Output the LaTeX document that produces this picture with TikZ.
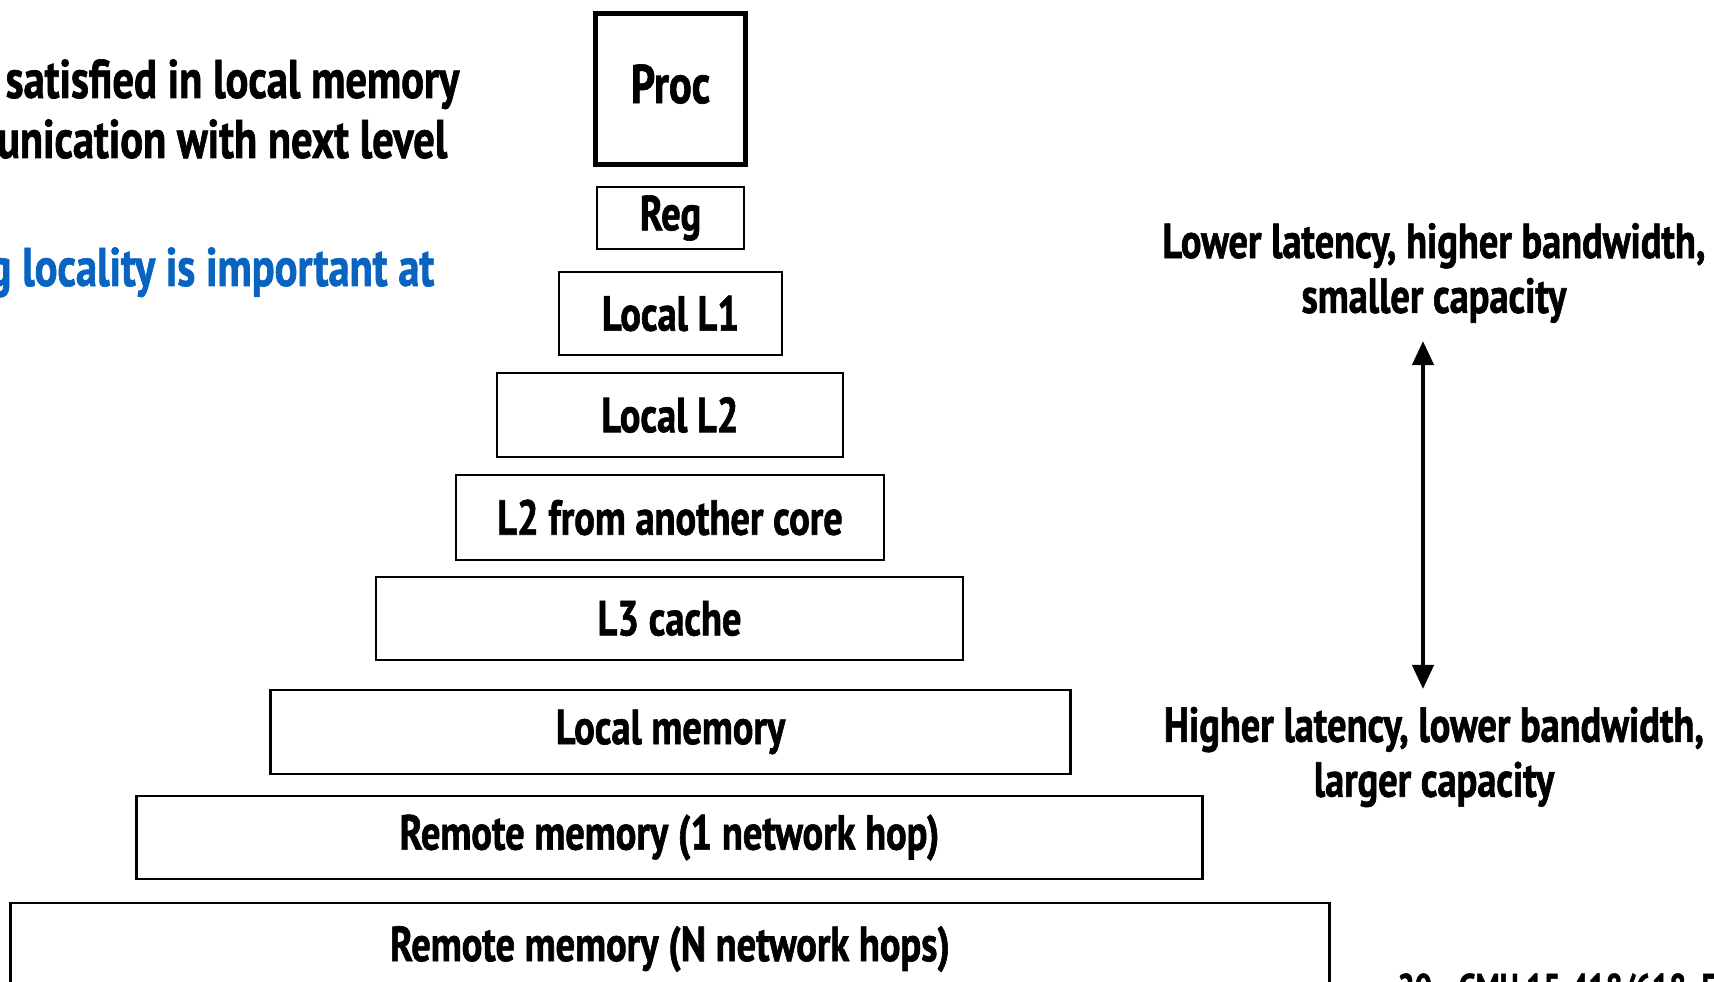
\documentclass[tikz,border=0pt]{standalone}
\usepackage{fontspec}
\setmainfont{PT Sans}[FakeStretch=0.78, BoldFeatures={FakeBold=1.2}]
\usetikzlibrary{arrows.meta}
\definecolor{locblue}{RGB}{8,100,192}
\begin{document}
\begin{tikzpicture}[x=0.01cm,y=-0.01cm,
  font=\bfseries\fontsize{14}{16}\selectfont,
  lvl/.style={draw, line width=0.75pt, inner sep=0pt},
  side/.style={align=center, font=\bfseries\fontsize{14}{15.6}\selectfont},
  lefttxt/.style={anchor=base east, inner sep=0pt, font=\bfseries\fontsize{15.5}{18}\selectfont},
  dbl/.style={line width=1.2pt, {Triangle[length=0.24cm,width=0.21cm]}-{Triangle[length=0.24cm,width=0.21cm]}}
]
\useasboundingbox (0,0) rectangle (1714,982);
% pyramid levels
\node[lvl, line width=1.4pt, minimum width=1.49cm, minimum height=1.50cm, font=\bfseries\fontsize{15.5}{18}\selectfont] (proc) at (670.5,89) {\raisebox{3pt}{Proc}};
\node[lvl, minimum width=1.47cm, minimum height=0.62cm] (reg) at (670.5,218) {Reg};
\node[lvl, minimum width=2.23cm, minimum height=0.83cm] (l1) at (670.5,313.5) {Local L1};
\node[lvl, minimum width=3.46cm, minimum height=0.84cm] (l2) at (670,415) {Local L2};
\node[lvl, minimum width=4.28cm, minimum height=0.85cm] (l2o) at (670,517.5) {L2 from another core};
\node[lvl, minimum width=5.87cm, minimum height=0.83cm] (l3) at (669.5,618.5) {L3 cache};
\node[lvl, minimum width=7.99cm, minimum height=0.84cm] (lm) at (670.5,732) {Local memory};
\node[lvl, minimum width=10.65cm, minimum height=0.83cm] (rm1) at (669.5,837.5) {Remote memory (1 network hop)};
\node[lvl, minimum width=13.18cm, minimum height=0.92cm] (rmn) at (670,949) {Remote memory (N network hops)};
% left text (cut off by the page edge)
\node[lefttxt] (t1) at (460,98) {satisfied in local memory};
\node[lefttxt] (t2) at (448,158) {unication with next level};
\node[lefttxt, text=locblue] (t3) at (435,286) {g locality is important at};
% right side
\node[side] (up) at (1434,273) {Lower latency, higher bandwidth,\\smaller capacity};
\node[side] (down) at (1434,757) {Higher latency, lower bandwidth,\\larger capacity};
\coordinate (atop) at (1423,341);
\coordinate (abot) at (1423,689);
\draw[dbl] (atop) -- (abot);
% footer (cut off)
\node[anchor=base west, inner sep=0pt, font=\bfseries\fontsize{11}{13}\selectfont] (pg) at (1397,1001) {20};
\node[anchor=base west, inner sep=0pt, font=\bfseries\fontsize{11}{13}\selectfont] (ft) at (1458,1001) {CMU 15-418/618, Fall 2016};
\end{tikzpicture}
\end{document}
